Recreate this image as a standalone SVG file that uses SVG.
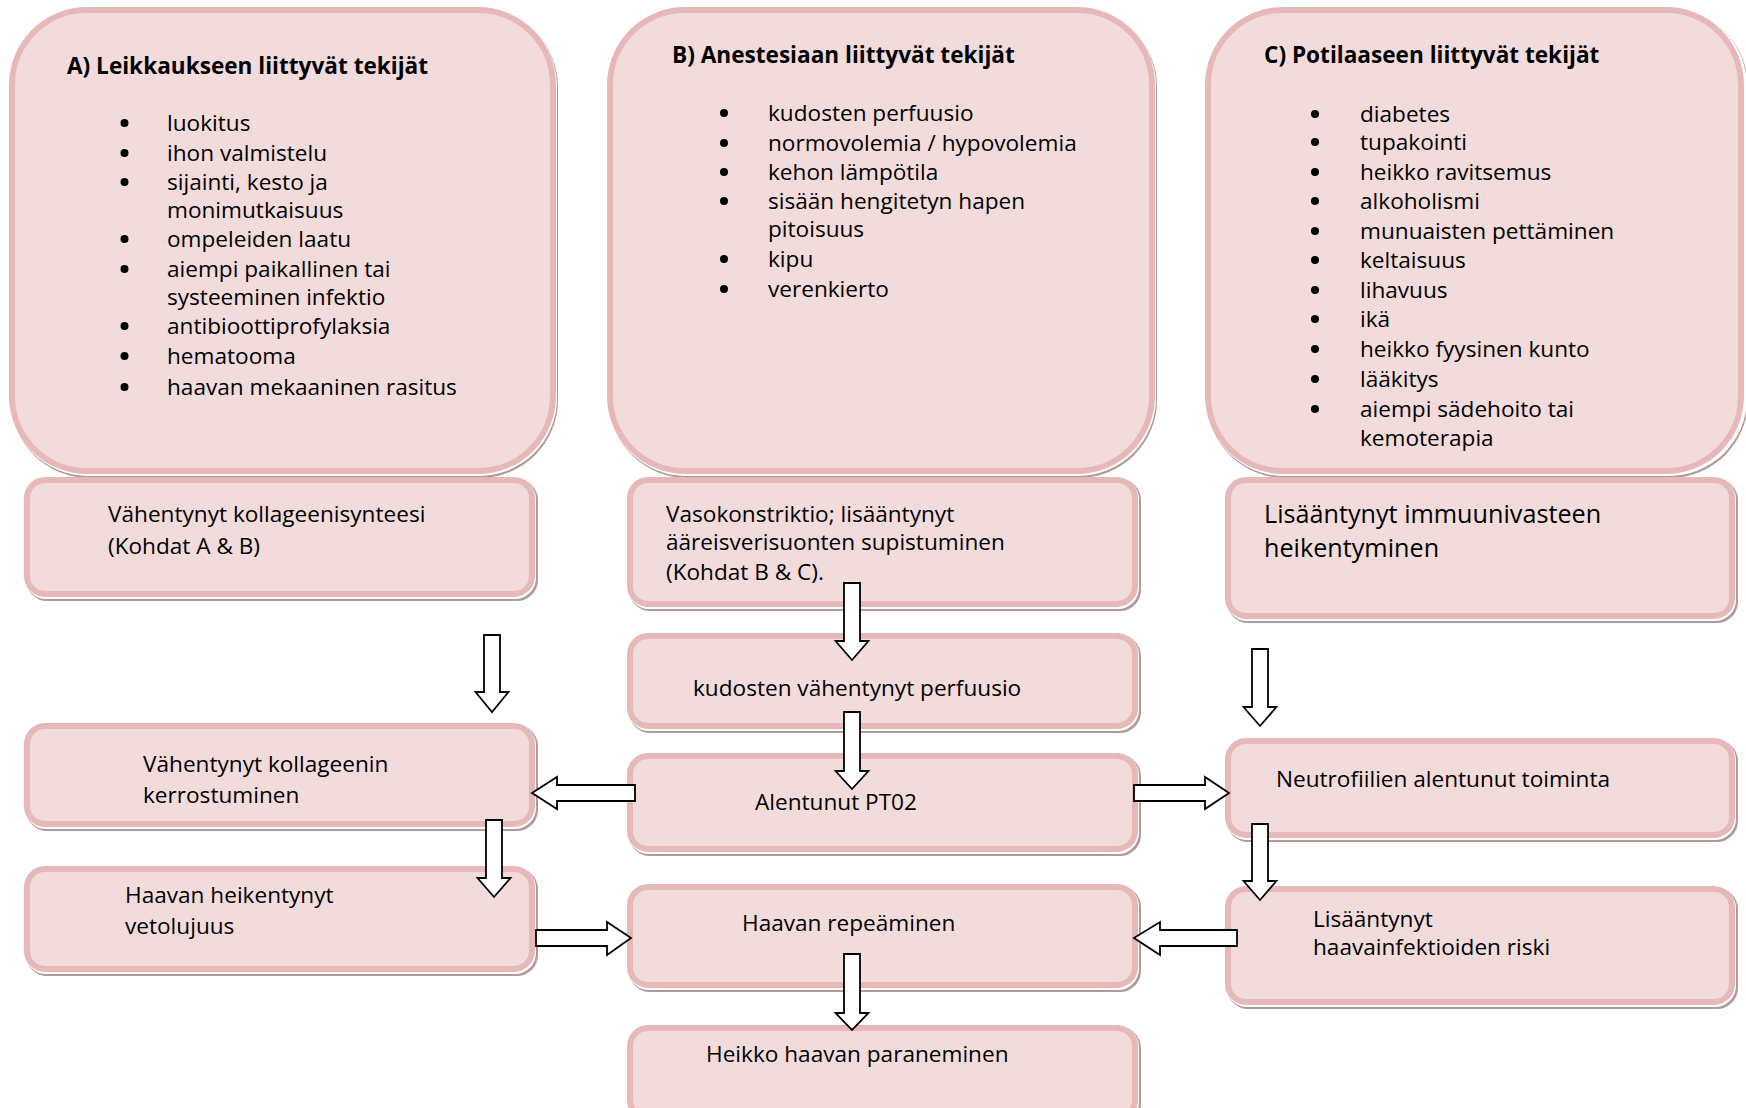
<svg xmlns="http://www.w3.org/2000/svg" width="1746" height="1108" viewBox="0 0 1746 1108">
<style>
.sh{fill:#b39a9a}
.gap{fill:#ffffff}
.box{fill:#f2dcdb;stroke:#e6b9b8;stroke-width:6}
.t{font-family:"Open Sans","Liberation Sans",sans-serif;font-size:22.6px;fill:#000}
.tb{font-family:"Open Sans","Liberation Sans",sans-serif;font-size:22.6px;font-weight:bold;fill:#000}
.tl{font-family:"Open Sans","Liberation Sans",sans-serif;font-size:25.2px;fill:#000}
.bul{fill:#000}
.arr{fill:#ffffff;stroke:#000;stroke-width:1.8;stroke-linejoin:miter}
</style>
<rect width="1746" height="1108" fill="#ffffff"/>

<g id="boxA">
<rect class="sh" x="11" y="9" width="547" height="469" rx="78"/>
<rect class="gap" x="10" y="8" width="547" height="468" rx="78"/>
<rect class="box" x="12" y="10" width="541" height="461" rx="75"/>
<text class="tb" x="67" y="74">A) Leikkaukseen liittyvät tekijät</text>
<g class="bul"><circle cx="124.5" cy="123" r="4"/><circle cx="124.5" cy="153" r="4"/><circle cx="124.5" cy="182" r="4"/><circle cx="124.5" cy="239" r="4"/><circle cx="124.5" cy="269" r="4"/><circle cx="124.5" cy="326" r="4"/><circle cx="124.5" cy="356" r="4"/><circle cx="124.5" cy="387" r="4"/></g>
<text class="t" x="167" y="131">luokitus</text>
<text class="t" x="167" y="161">ihon valmistelu</text>
<text class="t" x="167" y="190">sijainti, kesto ja</text>
<text class="t" x="167" y="218">monimutkaisuus</text>
<text class="t" x="167" y="247">ompeleiden laatu</text>
<text class="t" x="167" y="277">aiempi paikallinen tai</text>
<text class="t" x="167" y="305">systeeminen infektio</text>
<text class="t" x="167" y="334">antibioottiprofylaksia</text>
<text class="t" x="167" y="364">hematooma</text>
<text class="t" x="167" y="395">haavan mekaaninen rasitus</text>
</g>

<g id="boxB">
<rect class="sh" x="609" y="9" width="548" height="469" rx="78"/>
<rect class="gap" x="608" y="8" width="548" height="468" rx="78"/>
<rect class="box" x="610" y="10" width="542" height="461" rx="75"/>
<text class="tb" x="672" y="63">B) Anestesiaan liittyvät tekijät</text>
<g class="bul"><circle cx="724" cy="113" r="4"/><circle cx="724" cy="143" r="4"/><circle cx="724" cy="172" r="4"/><circle cx="724" cy="201" r="4"/><circle cx="724" cy="259" r="4"/><circle cx="724" cy="289" r="4"/></g>
<text class="t" x="768" y="121">kudosten perfuusio</text>
<text class="t" x="768" y="151">normovolemia / hypovolemia</text>
<text class="t" x="768" y="180">kehon lämpötila</text>
<text class="t" x="768" y="209">sisään hengitetyn hapen</text>
<text class="t" x="768" y="237">pitoisuus</text>
<text class="t" x="768" y="267">kipu</text>
<text class="t" x="768" y="297">verenkierto</text>
</g>

<g id="boxC">
<rect class="sh" x="1207" y="9" width="541" height="469" rx="78"/>
<rect class="gap" x="1206" y="8" width="541" height="468" rx="78"/>
<rect class="box" x="1208" y="10" width="533" height="461" rx="75"/>
<text class="tb" x="1264" y="63">C) Potilaaseen liittyvät tekijät</text>
<g class="bul"><circle cx="1315" cy="114" r="4"/><circle cx="1315" cy="142" r="4"/><circle cx="1315" cy="172" r="4"/><circle cx="1315" cy="201" r="4"/><circle cx="1315" cy="231" r="4"/><circle cx="1315" cy="260" r="4"/><circle cx="1315" cy="290" r="4"/><circle cx="1315" cy="319" r="4"/><circle cx="1315" cy="349" r="4"/><circle cx="1315" cy="379" r="4"/><circle cx="1315" cy="409" r="4"/></g>
<text class="t" x="1360" y="122">diabetes</text>
<text class="t" x="1360" y="150">tupakointi</text>
<text class="t" x="1360" y="180">heikko ravitsemus</text>
<text class="t" x="1360" y="209">alkoholismi</text>
<text class="t" x="1360" y="239">munuaisten pettäminen</text>
<text class="t" x="1360" y="268">keltaisuus</text>
<text class="t" x="1360" y="298">lihavuus</text>
<text class="t" x="1360" y="327">ikä</text>
<text class="t" x="1360" y="357">heikko fyysinen kunto</text>
<text class="t" x="1360" y="387">lääkitys</text>
<text class="t" x="1360" y="417">aiempi sädehoito tai</text>
<text class="t" x="1360" y="446">kemoterapia</text>
</g>

<g id="s1">
<rect class="sh" x="26" y="479" width="512" height="122" rx="21"/>
<rect class="gap" x="25" y="478" width="511" height="121" rx="21"/>
<rect class="box" x="27" y="480" width="505" height="114" rx="18"/>
<text class="t" x="108" y="522">Vähentynyt kollageenisynteesi</text>
<text class="t" x="108" y="554">(Kohdat A &amp; B)</text>
</g>

<g id="s2">
<rect class="sh" x="629" y="479" width="512" height="132" rx="21"/>
<rect class="gap" x="628" y="478" width="511" height="131" rx="21"/>
<rect class="box" x="630" y="480" width="505" height="124" rx="18"/>
<text class="t" x="666" y="522">Vasokonstriktio; lisääntynyt</text>
<text class="t" x="666" y="550">ääreisverisuonten supistuminen</text>
<text class="t" x="666" y="580">(Kohdat B &amp; C).</text>
</g>

<g id="s3">
<rect class="sh" x="1227" y="479" width="511" height="144" rx="21"/>
<rect class="gap" x="1226" y="478" width="510" height="143" rx="21"/>
<rect class="box" x="1228" y="480" width="504" height="136" rx="18"/>
<text class="tl" x="1264" y="523">Lisääntynyt immuunivasteen</text>
<text class="tl" x="1264" y="557">heikentyminen</text>
</g>

<g id="s4">
<rect class="sh" x="629" y="635" width="512" height="98" rx="21"/>
<rect class="gap" x="628" y="634" width="511" height="97" rx="21"/>
<rect class="box" x="630" y="636" width="505" height="90" rx="18"/>
<text class="t" x="693" y="696">kudosten vähentynyt perfuusio</text>
</g>

<g id="s5">
<rect class="sh" x="26" y="725" width="512" height="106" rx="21"/>
<rect class="gap" x="25" y="724" width="511" height="105" rx="21"/>
<rect class="box" x="27" y="726" width="505" height="98" rx="18"/>
<text class="t" x="143" y="772">Vähentynyt kollageenin</text>
<text class="t" x="143" y="803">kerrostuminen</text>
</g>

<g id="s6">
<rect class="sh" x="629" y="755" width="512" height="101" rx="21"/>
<rect class="gap" x="628" y="754" width="511" height="100" rx="21"/>
<rect class="box" x="630" y="756" width="505" height="93" rx="18"/>
<text class="t" x="755" y="810">Alentunut PT02</text>
</g>

<g id="s7">
<rect class="sh" x="1227" y="740" width="511" height="102" rx="21"/>
<rect class="gap" x="1226" y="739" width="510" height="101" rx="21"/>
<rect class="box" x="1228" y="741" width="504" height="94" rx="18"/>
<text class="t" x="1276" y="787">Neutrofiilien alentunut toiminta</text>
</g>

<g id="s8">
<rect class="sh" x="26" y="868" width="512" height="108" rx="21"/>
<rect class="gap" x="25" y="867" width="511" height="107" rx="21"/>
<rect class="box" x="27" y="869" width="505" height="100" rx="18"/>
<text class="t" x="125" y="903">Haavan heikentynyt</text>
<text class="t" x="125" y="934">vetolujuus</text>
</g>

<g id="s9">
<rect class="sh" x="629" y="886" width="512" height="106" rx="21"/>
<rect class="gap" x="628" y="885" width="511" height="105" rx="21"/>
<rect class="box" x="630" y="887" width="505" height="98" rx="18"/>
<text class="t" x="742" y="931">Haavan repeäminen</text>
</g>

<g id="s10">
<rect class="sh" x="1227" y="888" width="511" height="121" rx="21"/>
<rect class="gap" x="1226" y="887" width="510" height="120" rx="21"/>
<rect class="box" x="1228" y="889" width="504" height="113" rx="18"/>
<text class="t" x="1313" y="927">Lisääntynyt</text>
<text class="t" x="1313" y="955">haavainfektioiden riski</text>
</g>

<g id="s11">
<rect class="sh" x="629" y="1027" width="512" height="98" rx="21"/>
<rect class="gap" x="628" y="1026" width="511" height="97" rx="21"/>
<rect class="box" x="630" y="1028" width="505" height="90" rx="18"/>
<text class="t" x="706" y="1062">Heikko haavan paraneminen</text>
</g>

<g id="connectors">
<polygon class="arr" points="484,635 500,635 500,692 508.5,692 492,712 475.5,692 484,692"/>
<polygon class="arr" points="486,820 502,820 502,878 510.5,878 494,897 477.5,878 486,878"/>
<polygon class="arr" points="844,583 860,583 860,641 868.5,641 852,660 835.5,641 844,641"/>
<polygon class="arr" points="844,712 860,712 860,771 868.5,771 852,789 835.5,771 844,771"/>
<polygon class="arr" points="844,954 860,954 860,1013 868.5,1013 852,1030 835.5,1013 844,1013"/>
<polygon class="arr" points="1252,649 1268,649 1268,707 1276.5,707 1260,726 1243.5,707 1252,707"/>
<polygon class="arr" points="1252,824 1268,824 1268,881 1276.5,881 1260,900 1243.5,881 1252,881"/>
<polygon class="arr" points="532,793 557,777 557,785 635,785 635,801 557,801 557,809"/>
<polygon class="arr" points="1134,785 1205,785 1205,777 1229,793 1205,809 1205,801 1134,801"/>
<polygon class="arr" points="536,930 607,930 607,922 631,938 607,955 607,946 536,946"/>
<polygon class="arr" points="1134,938 1160,922 1160,930 1237,930 1237,946 1160,946 1160,955"/>
</g>
</svg>
